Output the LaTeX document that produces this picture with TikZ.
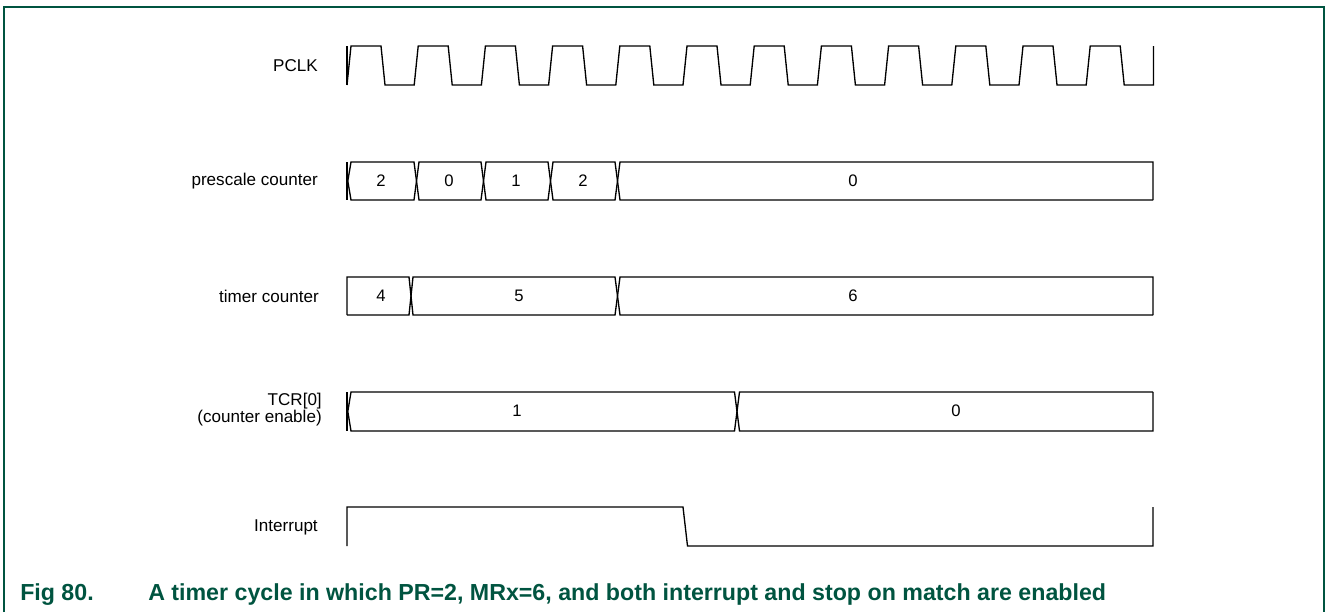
\documentclass[tikz,border=0pt]{standalone}
\usepackage{fontspec}
\setmainfont{Liberation Sans}
\definecolor{nxpgreen}{RGB}{0,84,64}
\begin{document}
\begin{tikzpicture}[x=0.75pt,y=-0.75pt,
  sig/.style={line width=1pt,black,line join=miter},
  frame/.style={nxpgreen,line width=1.2pt},
  lbl/.style={font=\fontsize{12.8}{12.75}\selectfont,inner sep=0pt,anchor=east,align=right},
  val/.style={font=\fontsize{12.5}{13}\selectfont,inner sep=0pt},
  capt/.style={font=\bfseries\fontsize{17.4}{19}\selectfont,text=nxpgreen,anchor=base west,inner sep=0pt}]
\useasboundingbox (0,0) rectangle (1326,612);
\draw[frame] (4,612) -- (4,7) -- (1324,7) -- (1324,612);

% signal names
\node[lbl] (lpclk) at (318,66) {PCLK};
\node[lbl] (lpre) at (318,181) {prescale counter};
\node[lbl] (ltim) at (319,296) {timer counter};
\node[lbl] (ltcr) at (322,410) {TCR[0]\\(counter enable)};
\node[lbl] (lint) at (318,527) {Interrupt};

% PCLK
\draw[sig] (347,46) -- (347,85);
\draw[sig] (347,85) foreach \k in {0,...,11} {
  -- ({347+67.2*\k+4},46) -- ({347+67.2*\k+34},46)
  -- ({347+67.2*\k+38},85) -- ({347+67.2*(\k+1)},85) } -- (1153.4,46);

% prescale counter
\draw[sig] (347,162) -- (347,200);
\draw[sig] (347.8,181) -- (351,162) -- (414,162) -- (419,200) -- (481,200) -- (486,162)
  -- (548,162) -- (553,200) -- (615,200) -- (620,162) -- (1153,162) -- (1153,200);
\draw[sig] (347.8,181) -- (351,200) -- (414,200) -- (419,162) -- (481,162) -- (486,200)
  -- (548,200) -- (553,162) -- (615,162) -- (620,200) -- (1153,200);
\node[val] (p1) at (381,181) {2};
\node[val] (p2) at (449,181) {0};
\node[val] (p3) at (516,181) {1};
\node[val] (p4) at (583,181) {2};
\node[val] (p5) at (853,181) {0};

% timer counter
\draw[sig] (347,315) -- (347,277) -- (409,277) -- (413,315) -- (615,315) -- (620,277)
  -- (1153,277) -- (1153,315);
\draw[sig] (347,315) -- (409,315) -- (413,277) -- (615,277) -- (620,315) -- (1153,315);
\node[val] (t1) at (381,296) {4};
\node[val] (t2) at (519,296) {5};
\node[val] (t3) at (853,296) {6};

% TCR[0]
\draw[sig] (347,392) -- (347,431);
\draw[sig] (347.8,411.5) -- (351,392) -- (734.5,392) -- (739.5,431) -- (1153,431) -- (1153,392);
\draw[sig] (347.8,411.5) -- (351,431) -- (734.5,431) -- (739.5,392) -- (1153,392);
\node[val] (c1) at (517,411) {1};
\node[val] (c2) at (956,411) {0};

% Interrupt
\draw[sig] (347,546) -- (347,507) -- (683,507) -- (687.5,546) -- (1153,546) -- (1153,507);

% caption
\node[capt] (fig) at (20,600) {Fig 80.};
\node[capt] (cap) at (148,600) {A timer cycle in which PR=2, MRx=6, and both interrupt and stop on match are enabled};
\end{tikzpicture}
\end{document}
